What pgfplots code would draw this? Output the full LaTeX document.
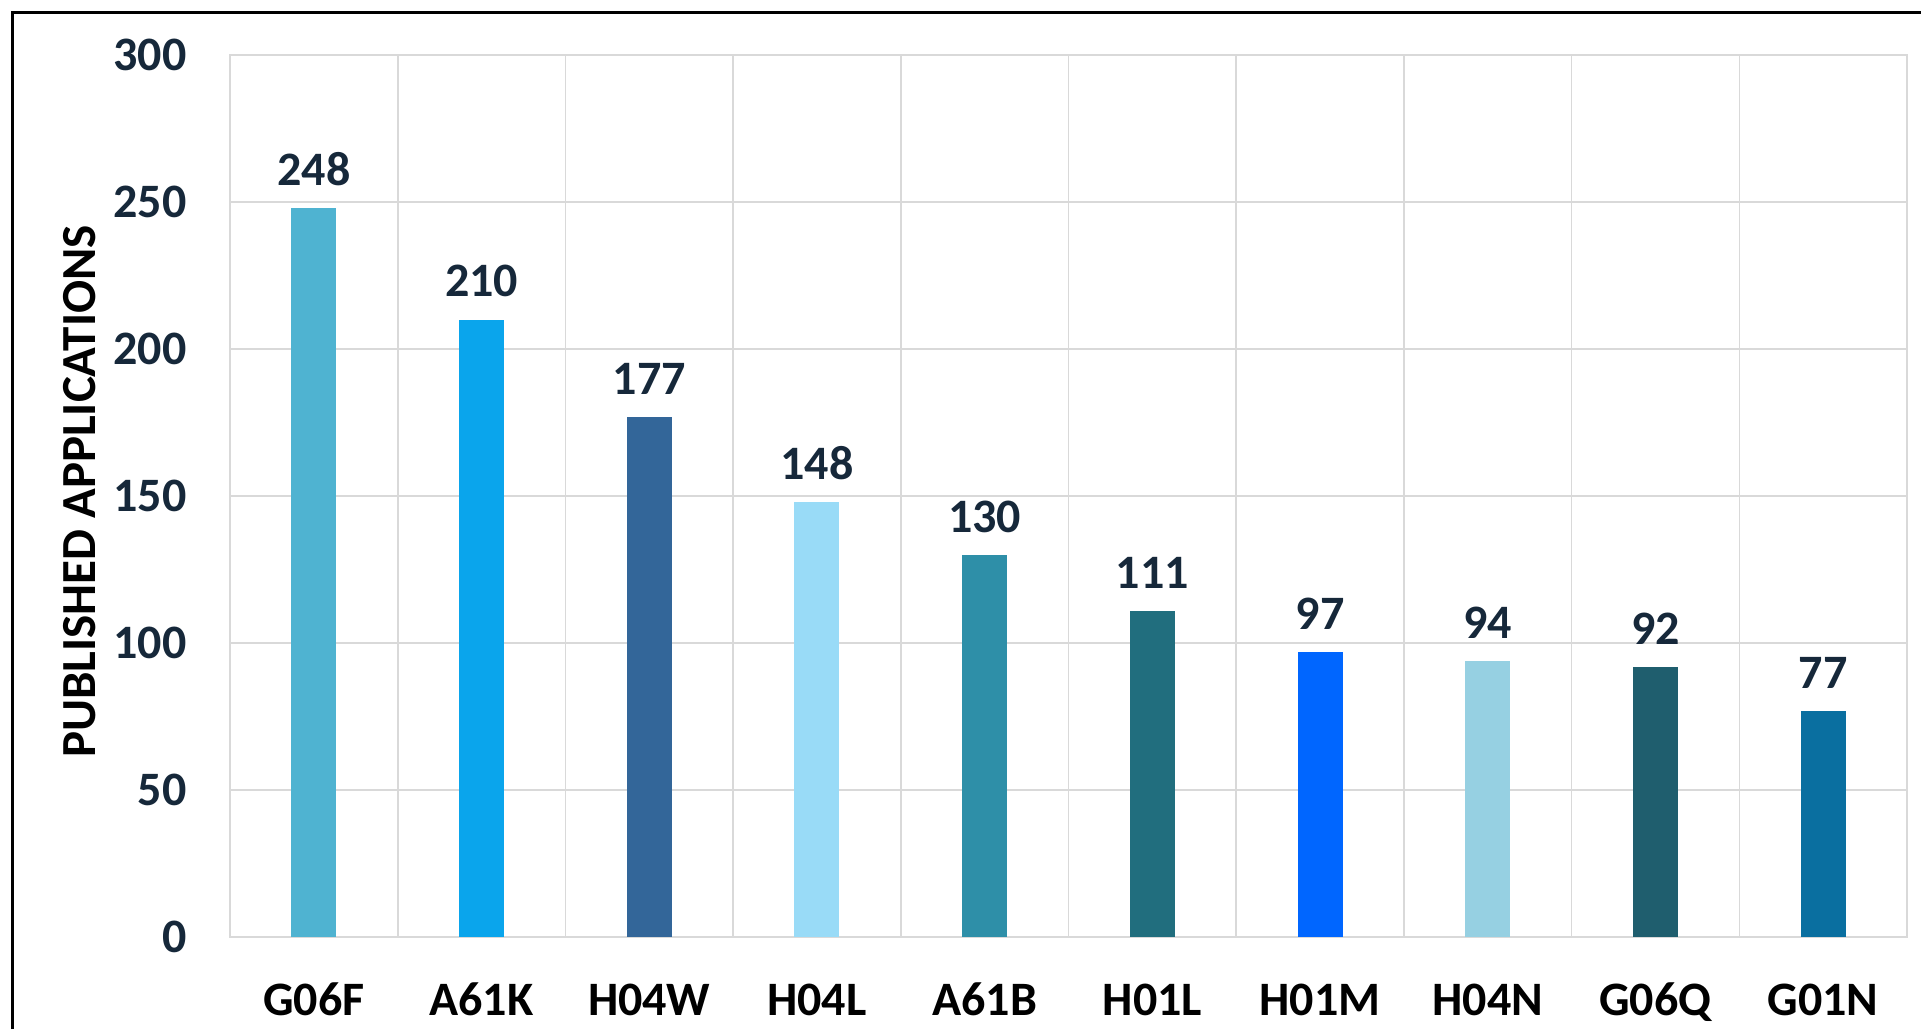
\documentclass[border=0pt]{standalone}
\usepackage{pgfplots}
\pgfplotsset{compat=1.18}
\usepackage{fontspec}
\setmainfont{Carlito}
\definecolor{navy}{HTML}{16283A}
\definecolor{gridc}{HTML}{D9D9D9}
\definecolor{c0}{HTML}{4FB3D1}
\definecolor{c1}{HTML}{0AA5EC}
\definecolor{c2}{HTML}{336699}
\definecolor{c3}{HTML}{99DBF7}
\definecolor{c4}{HTML}{2E8FA8}
\definecolor{c5}{HTML}{216E7E}
\definecolor{c6}{HTML}{0066FF}
\definecolor{c7}{HTML}{96D0E2}
\definecolor{c8}{HTML}{1F5E6E}
\definecolor{c9}{HTML}{0A6FA0}
\begin{document}
\begin{tikzpicture}
\begin{axis}[
  at={(0,0)}, anchor=south west,
  scale only axis, width=838.5pt, height=441pt,
  xmin=-0.5, xmax=9.5, ymin=0, ymax=300,
  ytick={0,50,...,300},
  xtick={0,...,9},
  xticklabels={G06F,A61K,H04W,H04L,A61B,H01L,H01M,H04N,G06Q,G01N},
  minor xtick={0.5,1.5,...,8.5},
  xminorgrids, ymajorgrids,
  grid style={gridc, line width=0.8pt},
  minor grid style={gridc, line width=0.8pt},
  axis line style={gridc, line width=0.8pt},
  major tick length=0pt, minor tick length=0pt,
  tick style={draw=none},
  /pgf/number format/assume math mode=true,
  font=\bfseries\fontsize{24}{28}\selectfont,
  yticklabel style={anchor=east, inner sep=0pt, xshift=-21.5pt, text=navy, font=\bfseries\fontsize{24}{28}\selectfont},
  xticklabel style={anchor=base, inner sep=0pt, yshift=-39pt, text=black, font=\bfseries\fontsize{24}{28}\selectfont},
  ylabel={PUBLISHED APPLICATIONS},
  ylabel style={font=\bfseries\fontsize{24.5}{28}\selectfont, text=black, at={(axis description cs:-0.0894,0.505)}, anchor=center},
  nodes near coords,
  nodes near coords style={anchor=south, inner sep=0pt, yshift=11pt, text=navy, font=\bfseries\fontsize{24}{28}\selectfont},
  every axis plot/.append style={ybar, bar width=22.5pt, draw=none, bar shift=0pt},
]
\addplot[fill=c0] coordinates {(0,248)};
\addplot[fill=c1] coordinates {(1,210)};
\addplot[fill=c2] coordinates {(2,177)};
\addplot[fill=c3] coordinates {(3,148)};
\addplot[fill=c4] coordinates {(4,130)};
\addplot[fill=c5] coordinates {(5,111)};
\addplot[fill=c6] coordinates {(6,97)};
\addplot[fill=c7] coordinates {(7,94)};
\addplot[fill=c8] coordinates {(8,92)};
\addplot[fill=c9] coordinates {(9,77)};
\end{axis}
\draw[black, line width=1.5pt] (-108.5pt,-46pt) -- (-108.5pt,462pt) -- (845.5pt,462pt);
\pgfresetboundingbox
\path[use as bounding box] (-115pt,-46pt) rectangle (845.5pt,468.5pt);
\end{tikzpicture}
\end{document}
